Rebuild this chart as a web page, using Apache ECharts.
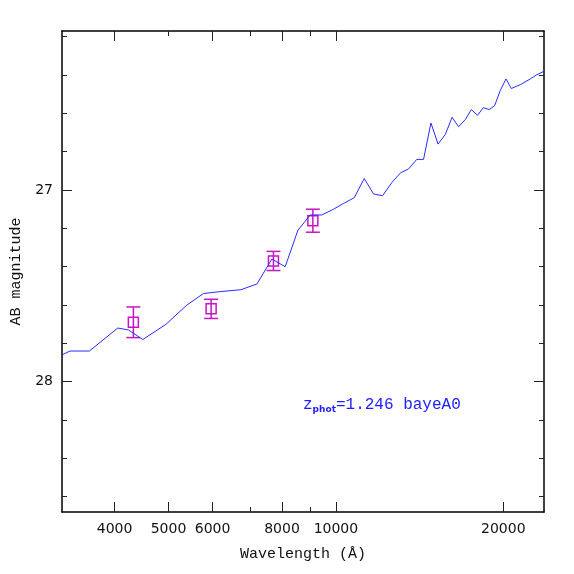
<!DOCTYPE html>
<html>
<head>
<meta charset="utf-8">
<script src="https://cdn.jsdelivr.net/npm/echarts@6/dist/echarts.min.js"></script>
<style>
  html, body { margin: 0; padding: 0; background: #fff; }
  #chart { width: 574px; height: 574px; }
</style>
</head>
<body>
<div id="chart"></div>
<script>
// model SED (wavelength in Angstrom, AB mag)
var sedWave = [3217, 3326, 3603, 4053, 4235, 4496, 4951, 5395, 5779, 6191, 6748, 7211, 7672, 8106, 8543, 8990,
  9436, 9901, 10320, 10787, 11244, 11687, 12129, 12613, 13068, 13508, 13976, 14374, 14822, 15265, 15730, 16178,
  16620, 17110, 17517, 17974, 18408, 18859, 19293, 19752, 20226, 20673, 21458, 22365, 22929, 23670];
var sedMag = [27.86, 27.84, 27.84, 27.72, 27.73, 27.78, 27.70, 27.60, 27.54, 27.53, 27.52, 27.49, 27.36, 27.40, 27.21, 27.13,
  27.13, 27.10, 27.07, 27.04, 26.94, 27.02, 27.03, 26.96, 26.91, 26.89, 26.84, 26.84, 26.65, 26.76, 26.71, 26.62,
  26.67, 26.63, 26.58, 26.61, 26.57, 26.58, 26.56, 26.48, 26.42, 26.47, 26.45, 26.42, 26.40, 26.38];

// photometry points
var photWave = [4323, 5965, 7721, 9090];
var photMag = [27.69, 27.62, 27.37, 27.16];
var photErr = [0.08, 0.05, 0.05, 0.06];

// ticks
var xMajor = [4000, 5000, 6000, 8000, 10000, 20000];
var xMinor = [7000, 9000];
var xTopMajor = [4000, 6000, 8000, 10000, 20000];
var xTopMinor = [5000, 7000, 9000];
var yMajor = [27, 28];
var yMinor = [26.2, 26.4, 26.6, 26.8, 27.2, 27.4, 27.6, 27.8, 28.2, 28.4, 28.6];

var xMin = 3217, xMax = 23670;
var yMin = 26.17, yMax = 28.68;

var sedData = sedWave.map(function (w, i) { return [w, sedMag[i]]; });
var photData = photWave.map(function (w, i) { return [w, photMag[i], photErr[i]]; });

var tickColor = '#222';
var magenta = '#c814c8';
var nameFont = 'Liberation Mono';

function xAxisDef(pos, ticks, len, showLine, labels) {
  return {
    type: 'log', position: pos, min: xMin, max: xMax,
    axisLine: { show: showLine, lineStyle: { color: '#000', width: 1.5 } },
    axisTick: { show: true, inside: true, length: len, customValues: ticks, lineStyle: { color: tickColor, width: 1 } },
    axisLabel: labels ? {
      show: true, customValues: labels, margin: 10, color: '#111',
      fontFamily: 'DejaVu Sans', fontSize: 14,
      formatter: function (v) { return String(Math.round(v)); }
    } : { show: false },
    splitLine: { show: false }, minorTick: { show: false }
  };
}

function yAxisDef(pos, ticks, len, showLine, labels) {
  return {
    type: 'value', position: pos, inverse: true, min: yMin, max: yMax,
    axisLine: { show: showLine, lineStyle: { color: '#000', width: 1.5 } },
    axisTick: { show: true, inside: true, length: len, customValues: ticks, lineStyle: { color: tickColor, width: 1 } },
    axisLabel: labels ? {
      show: true, customValues: labels, margin: 9, color: '#111',
      fontFamily: 'DejaVu Sans', fontSize: 14
    } : { show: false },
    splitLine: { show: false }
  };
}

var xAxes = [
  xAxisDef('bottom', xMajor, 10, true, xMajor),
  xAxisDef('bottom', xMinor, 5, false, null),
  xAxisDef('top', xTopMajor, 10, true, null),
  xAxisDef('top', xTopMinor, 5, false, null)
];
xAxes[0].name = 'Wavelength (Å)';
xAxes[0].nameLocation = 'middle';
xAxes[0].nameGap = 35;
xAxes[0].nameTextStyle = { fontFamily: nameFont, fontSize: 15, color: '#111' };

var yAxes = [
  yAxisDef('left', yMajor, 10, true, yMajor),
  yAxisDef('left', yMinor, 5, false, null),
  yAxisDef('right', yMajor, 10, true, null),
  yAxisDef('right', yMinor, 5, false, null)
];
yAxes[0].name = 'AB magnitude';
yAxes[0].nameLocation = 'middle';
yAxes[0].nameRotate = 90;
yAxes[0].nameGap = 38;
yAxes[0].nameTextStyle = { fontFamily: nameFont, fontSize: 15, color: '#111' };

var chart = echarts.init(document.getElementById('chart'), null, { renderer: 'canvas' });
chart.setOption({
  animation: false,
  backgroundColor: '#fff',
  grid: { left: 62, right: 30, top: 31, bottom: 62 },
  xAxis: xAxes,
  yAxis: yAxes,
  series: [{
    type: 'line',
    data: sedData,
    symbol: 'none',
    lineStyle: { color: '#2b2bff', width: 1 },
    xAxisIndex: 0, yAxisIndex: 0
  }, {
    type: 'custom',
    data: photData,
    xAxisIndex: 0, yAxisIndex: 0,
    renderItem: function (params, api) {
      var c = api.coord([api.value(0), api.value(1)]);
      var top = api.coord([api.value(0), api.value(1) - api.value(2)]);
      var bot = api.coord([api.value(0), api.value(1) + api.value(2)]);
      var s = 5, cap = 7;
      var st = { stroke: magenta, lineWidth: 1.5, fill: null };
      return {
        type: 'group',
        children: [
          { type: 'line', shape: { x1: c[0], y1: top[1], x2: c[0], y2: bot[1] }, style: st },
          { type: 'line', shape: { x1: c[0] - cap, y1: top[1], x2: c[0] + cap, y2: top[1] }, style: st },
          { type: 'line', shape: { x1: c[0] - cap, y1: bot[1], x2: c[0] + cap, y2: bot[1] }, style: st },
          { type: 'rect', shape: { x: c[0] - s, y: c[1] - s, width: 2 * s, height: 2 * s }, style: st }
        ]
      };
    }
  }],
  graphic: [{
    type: 'text',
    left: 303,
    top: 397,
    style: {
      text: '{a|z}{s|phot}{a|=1.246 bayeA0}',
      fill: '#2020ff',
      rich: {
        a: { fontFamily: nameFont, fontSize: 16, fill: '#2020ff' },
        s: { fontFamily: 'DejaVu Sans', fontSize: 9, fontWeight: 'bold', fill: '#2020ff', padding: [9, 0, 0, 0] }
      }
    }
  }]
});
</script>
</body>
</html>
